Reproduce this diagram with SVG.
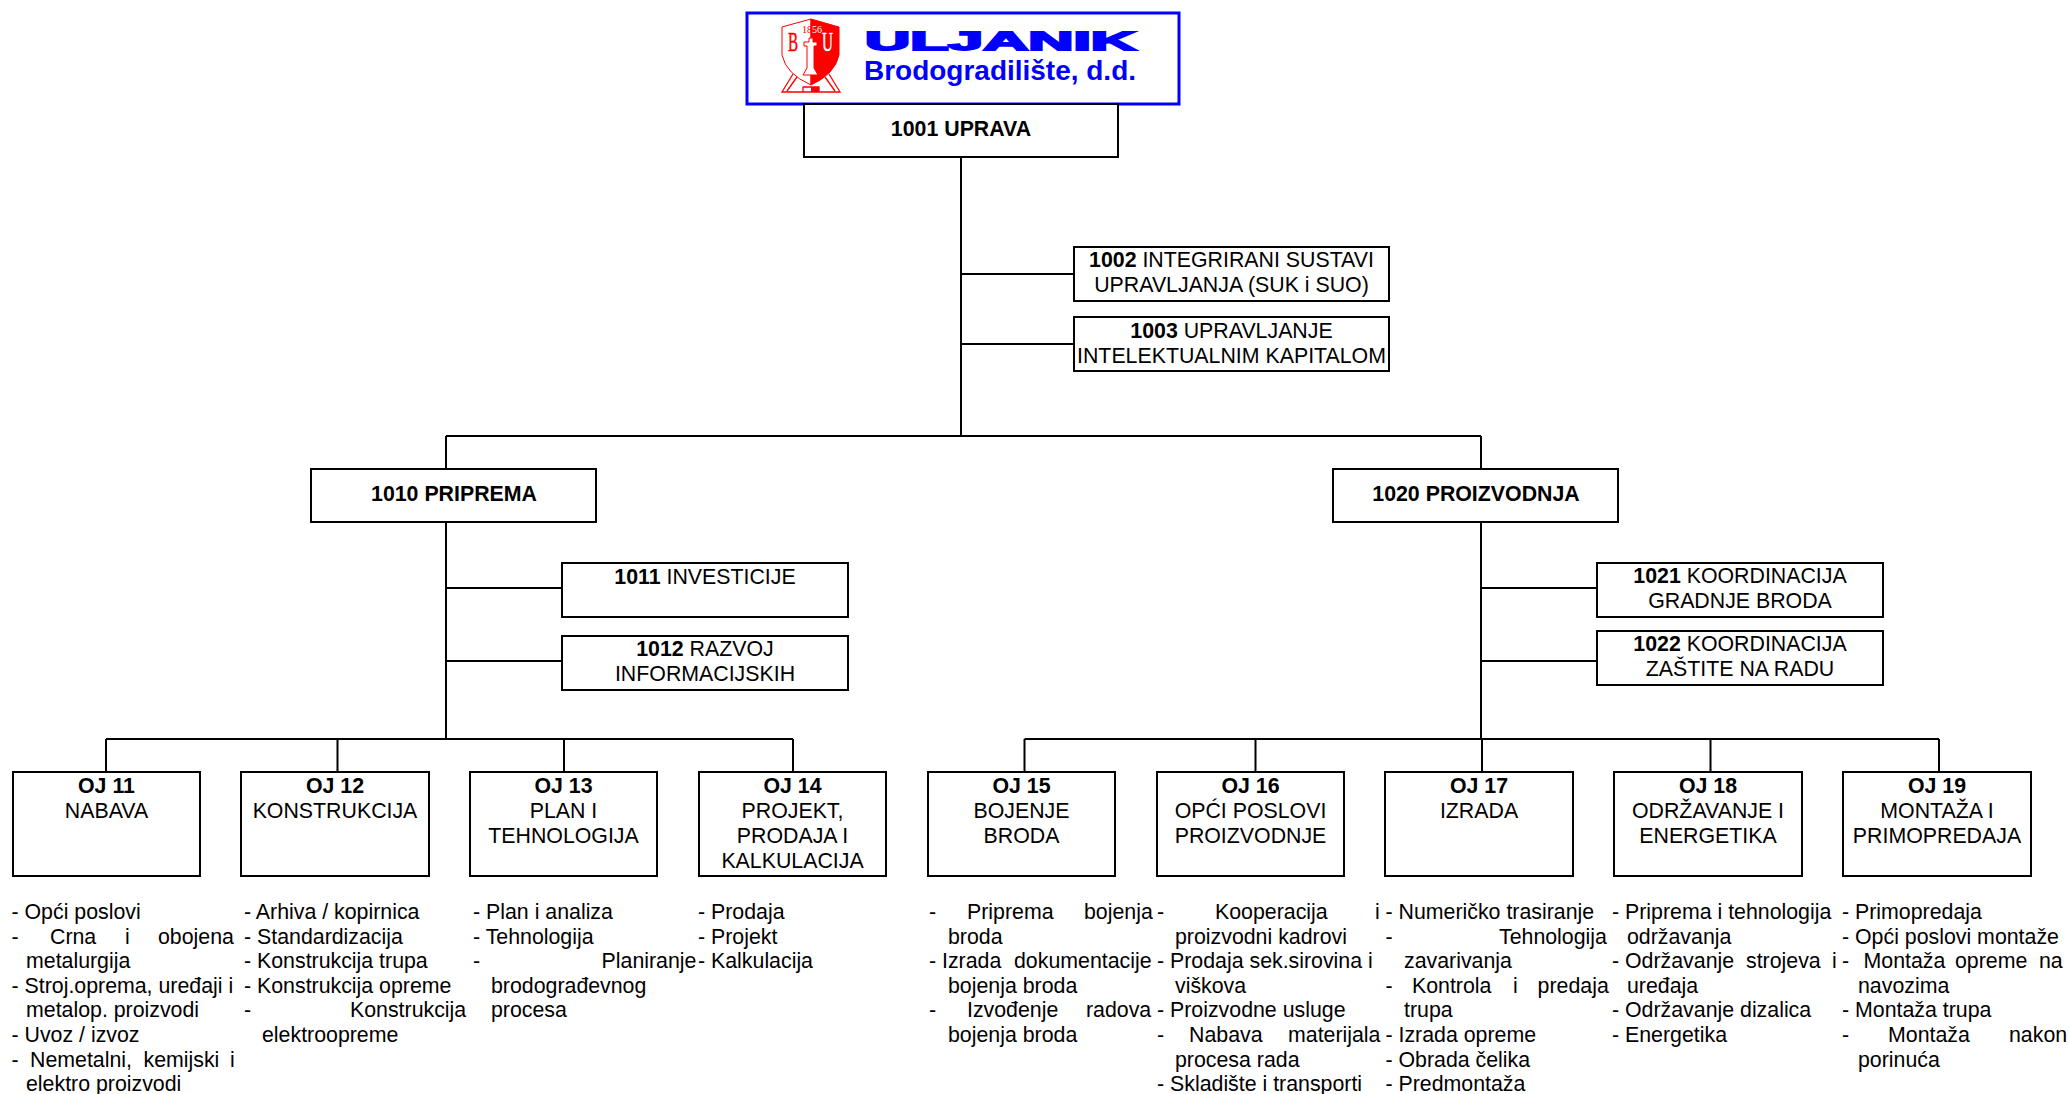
<svg xmlns="http://www.w3.org/2000/svg" width="2069" height="1094" viewBox="0 0 2069 1094">
<style>
text{font-family:"Liberation Sans",Arial,sans-serif;font-size:21.330px;fill:#000}
.c{text-anchor:middle}
.b{font-weight:700}
rect.n{fill:#fff;stroke:#000;stroke-width:2}
#connectors path{fill:none;stroke:#000;stroke-width:2}
</style>
<rect width="2069" height="1094" fill="#fff"/>
<g id="connectors">
<path d="M961 157V436M961 274H1074M961 344H1074M446 436H1481M446 436V469M1481 436V469"/>
<path d="M446 522V739M446 588H561M446 661H561M106 739H793M106 739V772M337.500 739V772M564 739V772M793 739V772"/>
<path d="M1481 522V739M1481 588H1597M1481 661H1597M1024.500 739H1939M1024.500 739V772M1255.500 739V772M1482 739V772M1710.500 739V772M1939 739V772"/>
</g>
<g id="logo">
<rect x="747" y="13" width="432" height="91" fill="#fff" stroke="#0000ff" stroke-width="3"/>
<path d="M811 19L782 27V55Q786 74 811 85Z" fill="#fff" stroke="#f00" stroke-width="1"/>
<path d="M811 19L839 27V55Q835 74 811 85Z" fill="#f00" stroke="#f00" stroke-width="1"/>
<path d="M793 74L782 92H840L829 74M797 77L787 91M825 77L835 91M782 92H803V87H819V92" fill="none" stroke="#f00" stroke-width="1.300"/>
<rect x="811" y="87" width="8" height="5" fill="#f00"/>
<path d="M804 42H809V38H813V42H817V46H814V68L818 75H803L807 68V46H804Z" fill="#fff" stroke="#f00" stroke-width="1"/>
<text transform="translate(788 51) scale(.54 1)" style="font-family:'Liberation Serif',serif;font-size:28px;fill:#f00;stroke:#f00;stroke-width:.5">B</text>
<text transform="translate(822 51) scale(.54 1)" style="font-family:'Liberation Serif',serif;font-size:28px;fill:#fff;stroke:#fff;stroke-width:.5">U</text>
<text x="802" y="33" style="font-family:'Liberation Serif',serif;font-size:10px;fill:#f00">18<tspan fill="#fff">56</tspan></text>
<text x="865" y="50" textLength="271" lengthAdjust="spacingAndGlyphs" class="b" style="font-size:26px;fill:#0000ff;stroke:#0000ff;stroke-width:1.800">ULJANIK</text>
<text x="864" y="80" textLength="272" lengthAdjust="spacingAndGlyphs" class="b" style="font-size:28px;fill:#0000ff">Brodogradilište, d.d.</text>
</g>
<g id="n1001"><rect class="n" x="804" y="104" width="314" height="53"/><text class="c b" x="961" y="136">1001 UPRAVA</text></g>
<g id="n1002"><rect class="n" x="1074" y="247" width="315" height="54"/><text class="c" x="1231.500" y="267"><tspan class="b">1002</tspan> INTEGRIRANI SUSTAVI<tspan x="1231.500" dy="25">UPRAVLJANJA (SUK i SUO)</tspan></text></g>
<g id="n1003"><rect class="n" x="1074" y="317" width="315" height="54"/><text class="c" x="1231.500" y="338"><tspan class="b">1003</tspan> UPRAVLJANJE<tspan x="1231.500" dy="25">INTELEKTUALNIM KAPITALOM</tspan></text></g>
<g id="n1010"><rect class="n" x="311" y="469" width="285" height="53"/><text class="c b" x="454" y="501">1010 PRIPREMA</text></g>
<g id="n1020"><rect class="n" x="1333" y="469" width="285" height="53"/><text class="c b" x="1476" y="501">1020 PROIZVODNJA</text></g>
<g id="n1011"><rect class="n" x="562" y="563" width="286" height="54"/><text class="c" x="705" y="584"><tspan class="b">1011</tspan> INVESTICIJE</text></g>
<g id="n1012"><rect class="n" x="562" y="636" width="286" height="54"/><text class="c" x="705" y="656"><tspan class="b">1012</tspan> RAZVOJ<tspan x="705" dy="25">INFORMACIJSKIH</tspan></text></g>
<g id="n1021"><rect class="n" x="1597" y="563" width="286" height="54"/><text class="c" x="1740" y="583"><tspan class="b">1021</tspan> KOORDINACIJA<tspan x="1740" dy="25">GRADNJE BRODA</tspan></text></g>
<g id="n1022"><rect class="n" x="1597" y="631" width="286" height="54"/><text class="c" x="1740" y="651"><tspan class="b">1022</tspan> KOORDINACIJA<tspan x="1740" dy="25">ZAŠTITE NA RADU</tspan></text></g>
<g id="oj11"><rect class="n" x="13" y="772" width="187" height="104"/><text class="c" x="106.500" y="793"><tspan class="b">OJ 11</tspan><tspan x="106.500" dy="25">NABAVA</tspan></text></g>
<g id="oj12"><rect class="n" x="241" y="772" width="188" height="104"/><text class="c" x="335" y="793"><tspan class="b">OJ 12</tspan><tspan x="335" dy="25">KONSTRUKCIJA</tspan></text></g>
<g id="oj13"><rect class="n" x="470" y="772" width="187" height="104"/><text class="c" x="563.500" y="793"><tspan class="b">OJ 13</tspan><tspan x="563.500" dy="25">PLAN I</tspan><tspan x="563.500" dy="25">TEHNOLOGIJA</tspan></text></g>
<g id="oj14"><rect class="n" x="699" y="772" width="187" height="104"/><text class="c" x="792.500" y="793"><tspan class="b">OJ 14</tspan><tspan x="792.500" dy="25">PROJEKT,</tspan><tspan x="792.500" dy="25">PRODAJA I</tspan><tspan x="792.500" dy="25">KALKULACIJA</tspan></text></g>
<g id="oj15"><rect class="n" x="928" y="772" width="187" height="104"/><text class="c" x="1021.500" y="793"><tspan class="b">OJ 15</tspan><tspan x="1021.500" dy="25">BOJENJE</tspan><tspan x="1021.500" dy="25">BRODA</tspan></text></g>
<g id="oj16"><rect class="n" x="1157" y="772" width="187" height="104"/><text class="c" x="1250.500" y="793"><tspan class="b">OJ 16</tspan><tspan x="1250.500" dy="25">OPĆI POSLOVI</tspan><tspan x="1250.500" dy="25">PROIZVODNJE</tspan></text></g>
<g id="oj17"><rect class="n" x="1385" y="772" width="188" height="104"/><text class="c" x="1479" y="793"><tspan class="b">OJ 17</tspan><tspan x="1479" dy="25">IZRADA</tspan></text></g>
<g id="oj18"><rect class="n" x="1614" y="772" width="188" height="104"/><text class="c" x="1708" y="793"><tspan class="b">OJ 18</tspan><tspan x="1708" dy="25">ODRŽAVANJE I</tspan><tspan x="1708" dy="25">ENERGETIKA</tspan></text></g>
<g id="oj19"><rect class="n" x="1843" y="772" width="188" height="104"/><text class="c" x="1937" y="793"><tspan class="b">OJ 19</tspan><tspan x="1937" dy="25">MONTAŽA I</tspan><tspan x="1937" dy="25">PRIMOPREDAJA</tspan></text></g>
<g id="list11"><text y="919" x="11.500">- Opći poslovi</text><text y="943.600"><tspan x="11.500">-</tspan><tspan x="50">Crna</tspan><tspan x="125">i</tspan><tspan x="158">obojena</tspan></text><text y="968.200" x="26">metalurgija</text><text y="992.800" x="11.500">- Stroj.oprema, uređaji i</text><text y="1017.400" x="26">metalop. proizvodi</text><text y="1042" x="11.500">- Uvoz / izvoz</text><text y="1066.600"><tspan x="11.500">-</tspan><tspan x="30">Nemetalni,</tspan><tspan x="143.500">kemijski</tspan><tspan x="230">i</tspan></text><text y="1091.200" x="26">elektro proizvodi</text></g>
<g id="list12"><text y="919" x="244">- Arhiva / kopirnica</text><text y="943.600" x="244">- Standardizacija</text><text y="968.200" x="244">- Konstrukcija trupa</text><text y="992.800" x="244">- Konstrukcija opreme</text><text y="1017.400"><tspan x="244">-</tspan><tspan x="350">Konstrukcija</tspan></text><text y="1042" x="262">elektroopreme</text></g>
<g id="list13"><text y="919" x="473">- Plan i analiza</text><text y="943.600" x="473">- Tehnologija</text><text y="968.200"><tspan x="473">-</tspan><tspan x="601.600">Planiranje</tspan></text><text y="992.800" x="491">brodograđevnog</text><text y="1017.400" x="491">procesa</text></g>
<g id="list14"><text y="919" x="698">- Prodaja</text><text y="943.600" x="698">- Projekt</text><text y="968.200" x="698">- Kalkulacija</text></g>
<g id="list15"><text y="919"><tspan x="929">-</tspan><tspan x="967">Priprema</tspan><tspan x="1084">bojenja</tspan></text><text y="943.600" x="948">broda</text><text y="968.200"><tspan x="929">- Izrada</tspan><tspan x="1014">dokumentacije</tspan></text><text y="992.800" x="948">bojenja broda</text><text y="1017.400"><tspan x="929">-</tspan><tspan x="967">Izvođenje</tspan><tspan x="1086">radova</tspan></text><text y="1042" x="948">bojenja broda</text></g>
<g id="list16"><text y="919"><tspan x="1157">-</tspan><tspan x="1215">Kooperacija</tspan><tspan x="1375">i</tspan></text><text y="943.600" x="1175">proizvodni kadrovi</text><text y="968.200" x="1157">- Prodaja sek.sirovina i</text><text y="992.800" x="1175">viškova</text><text y="1017.400" x="1157">- Proizvodne usluge</text><text y="1042"><tspan x="1157">-</tspan><tspan x="1189">Nabava</tspan><tspan x="1288">materijala</tspan></text><text y="1066.600" x="1175">procesa rada</text><text y="1091.200" x="1157">- Skladište i transporti</text></g>
<g id="list17"><text y="919" x="1385.500">- Numeričko trasiranje</text><text y="943.600"><tspan x="1385.500">-</tspan><tspan x="1499">Tehnologija</tspan></text><text y="968.200" x="1404">zavarivanja</text><text y="992.800"><tspan x="1385.500">-</tspan><tspan x="1412">Kontrola</tspan><tspan x="1513">i</tspan><tspan x="1537.600">predaja</tspan></text><text y="1017.400" x="1404">trupa</text><text y="1042" x="1385.500">- Izrada opreme</text><text y="1066.600" x="1385.500">- Obrada čelika</text><text y="1091.200" x="1385.500">- Predmontaža</text></g>
<g id="list18"><text y="919" x="1612">- Priprema i tehnologija</text><text y="943.600" x="1627">održavanja</text><text y="968.200"><tspan x="1612">- Održavanje</tspan><tspan x="1746">strojeva</tspan><tspan x="1832">i</tspan></text><text y="992.800" x="1627">uređaja</text><text y="1017.400" x="1612">- Održavanje dizalica</text><text y="1042" x="1612">- Energetika</text></g>
<g id="list19"><text y="919" x="1842">- Primopredaja</text><text y="943.600" x="1842">- Opći poslovi montaže</text><text y="968.200"><tspan x="1842">-</tspan><tspan x="1863.500">Montaža</tspan><tspan x="1955">opreme</tspan><tspan x="2039">na</tspan></text><text y="992.800" x="1858">navozima</text><text y="1017.400" x="1842">- Montaža trupa</text><text y="1042"><tspan x="1842">-</tspan><tspan x="1888">Montaža</tspan><tspan x="2009">nakon</tspan></text><text y="1066.600" x="1858">porinuća</text></g>
</svg>
